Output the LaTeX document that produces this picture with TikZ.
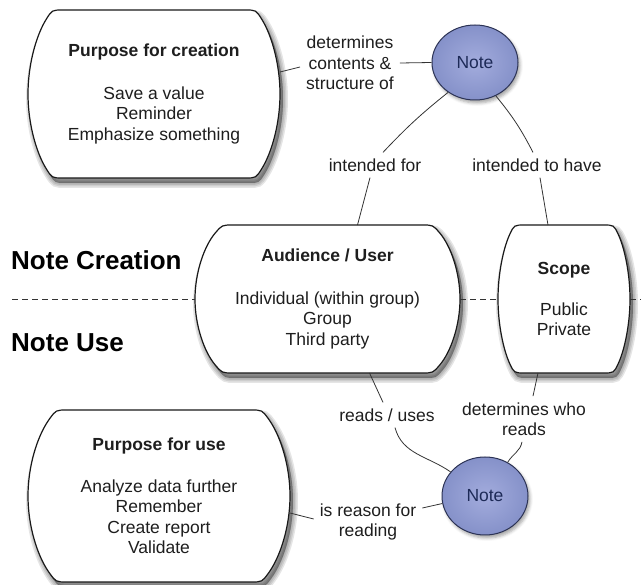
\documentclass[tikz,border=0pt]{standalone}
\usepackage{fontspec}
\setmainfont{Liberation Sans}
\usetikzlibrary{shapes.geometric,shadows.blur,calc}

\definecolor{noteinner}{HTML}{A3ACDD}
\definecolor{noteouter}{HTML}{8591C9}
\definecolor{noteedge}{HTML}{2C3355}
\definecolor{notetext}{HTML}{1D2A57}
\definecolor{ink}{HTML}{1E1E1E}
\definecolor{linkgray}{HTML}{333333}

% Outline of a box with flat top and bottom whose sides are circular arcs
% bulging outward by \cpc, with rounded corners of size \cpRho.
\newcommand\capsuleoutline{%
  (\cpl+\cpc+\cpRho,-\cpt) -- (\cpr-\cpc-\cpRho,-\cpt)
  .. controls (\cpr-\cpc,-\cpt) .. (\cpr-\cpc+\cpRx,-\cpt-\cpRy)
  .. controls (\cpr-\cpc+\cpSx,-\cpt-\cpSy) and (\cpr,-\cpm+\cpL) .. (\cpr,-\cpm)
  .. controls (\cpr,-\cpm-\cpL) and (\cpr-\cpc+\cpSx,-\cpb+\cpSy) .. (\cpr-\cpc+\cpRx,-\cpb+\cpRy)
  .. controls (\cpr-\cpc,-\cpb) .. (\cpr-\cpc-\cpRho,-\cpb)
  -- (\cpl+\cpc+\cpRho,-\cpb)
  .. controls (\cpl+\cpc,-\cpb) .. (\cpl+\cpc-\cpRx,-\cpb+\cpRy)
  .. controls (\cpl+\cpc-\cpSx,-\cpb+\cpSy) and (\cpl,-\cpm-\cpL) .. (\cpl,-\cpm)
  .. controls (\cpl,-\cpm+\cpL) and (\cpl+\cpc-\cpSx,-\cpt-\cpSy) .. (\cpl+\cpc-\cpRx,-\cpt-\cpRy)
  .. controls (\cpl+\cpc,-\cpt) .. (\cpl+\cpc+\cpRho,-\cpt) -- cycle}

% Arguments: left, top, right, bottom (top/bottom measured downward), side bulge.
% Draws a soft drop shadow, then the white box itself.
\newcommand\drawcapsule[5]{%
  \def\cpl{#1}\def\cpt{#2}\def\cpr{#3}\def\cpb{#4}\def\cpc{#5}\def\cpRho{11}%
  \pgfmathsetmacro\cpm{(#2+#4)/2}%
  \pgfmathsetmacro\cpHH{(#4-#2)/2}%
  \pgfmathsetmacro\cpR{(#5*#5+\cpHH*\cpHH)/(2*#5)}%
  \pgfmathsetmacro\cpTh{asin(\cpHH/\cpR)}%
  \pgfmathsetmacro\cpL{4/3*tan(\cpTh/4)*\cpR}%
  \pgfmathsetmacro\cpSx{\cpL*sin(\cpTh)}%
  \pgfmathsetmacro\cpSy{\cpL*cos(\cpTh)}%
  \pgfmathsetmacro\cpRx{\cpRho*sin(\cpTh)}%
  \pgfmathsetmacro\cpRy{\cpRho*cos(\cpTh)}%
  \foreach \w in {10,7,4,1}{%
    \path[capsuleshadow, line width=\w pt] \capsuleoutline;}
  \path[capsuleshape] \capsuleoutline;}

\begin{document}
\begin{tikzpicture}[x=1pt,y=1pt,
  font=\fontsize{17.5}{20.5}\selectfont,
  every node/.style={text=ink},
  boxtext/.style={align=center, inner sep=0pt, outer sep=0pt},
  capsuleshape/.style={draw=black!90, line width=1.2pt, fill=white},
  capsuleshadow/.style={shift={(3,-5)}, draw=black, draw opacity=0.1, fill=black, fill opacity=0.1},
  lbl/.style={align=center, inner sep=6pt},
  link/.style={draw=linkgray, line width=0.8pt},
  note/.style={ellipse, draw=noteedge, line width=1pt, inner color=noteinner, outer color=noteouter,
    minimum width=86pt, text=notetext, inner sep=0pt,
    blur shadow={shadow xshift=2pt, shadow yshift=-3pt, shadow blur radius=3pt, shadow opacity=35}},
  phase/.style={font=\fontsize{26}{30}\selectfont\bfseries, anchor=west, inner sep=0pt, text=black},
  divider/.style={draw=linkgray, line width=0.9pt, dash pattern=on 6pt off 4pt}]

\useasboundingbox (0,0) rectangle (641,-585);

% box outlines (left, top, right, bottom, bulge)
\drawcapsule{28}{10}{280}{178}{24}
\drawcapsule{195}{225}{460}{373}{27}
\drawcapsule{498}{225}{630}{373}{16}
\drawcapsule{28}{410}{290}{582}{28}

% box contents
\node[boxtext, minimum width=252pt, minimum height=168pt] (pc) at (154,-94)
  {\textbf{Purpose for creation}\\[22pt] Save a value\\ Reminder\\ Emphasize something};
\node[boxtext, minimum width=265pt, minimum height=148pt] (aud) at (327.5,-299)
  {\textbf{Audience / User}\\[22pt] Individual (within group)\\ Group\\ Third party};
\node[boxtext, minimum width=132pt, minimum height=148pt] (scope) at (564,-299)
  {\textbf{Scope}\\[20pt] Public\\ Private};
\node[boxtext, minimum width=262pt, minimum height=172pt] (pu) at (159,-496)
  {\textbf{Purpose for use}\\[21pt] Analyze data further\\ Remember\\ Create report\\ Validate};

% the two notes
\node[note, minimum height=75pt] (ntop) at (475,-62.5) {Note};
\node[note, minimum height=78pt] (nbot) at (485,-496) {Note};

% phase labels and divider
\node[phase] (creation) at (11,-260) {Note Creation};
\node[phase] (use) at (11,-343) {Note Use};
\coordinate (divL) at (12,-299);
\coordinate (divR) at (641,-299);
\draw[divider] (divL) -- (aud.west);
\draw[divider] (aud.east) -- (scope.west);
\draw[divider] (scope.east) -- (divR);

% relation labels
\node[lbl] (det) at (350,-63) {determines\\contents \&\\structure of};
\node[lbl] (ifor) at (375,-165) {intended for};
\node[lbl] (ihave) at (537,-165) {intended to have};
\node[lbl] (ruses) at (387,-415) {reads / uses};
\node[lbl] (dwho) at (524,-419) {determines who\\reads};
\node[lbl] (reason) at (368,-522) {is reason for\\reading};

% connectors
\draw[link] ($(pc.east)+(0,22)$) -- ($(det.west)+(0,-4)$);
\draw[link] (det.east) -- (ntop.west);
\draw[link] (ntop.228) to[bend right=4] ($(ifor.north)+(8,0)$);
\draw[link] ($(ifor.south)+(-5,0)$) -- ($(aud.north)+(30,0)$);
\draw[link] (ntop.302) to[bend left=6] ($(ihave.north)+(-4,0)$);
\draw[link] ($(ihave.south)+(3,0)$) -- ($(scope.north)+(-16,0)$);
\draw[link] ($(aud.south)+(42,0)$) -- ($(ruses.north)+(-4,0)$);
\draw[link] ($(ruses.south)+(8,0)$) to[out=-75,in=145] (nbot.145);
\draw[link] ($(scope.south)+(-26,0)$) -- ($(dwho.north)+(9,0)$);
\draw[link] ($(dwho.south)+(-2,0)$) to[out=-100,in=60] (nbot.56);
\draw[link] ($(pu.east)+(0,-17)$) -- ($(reason.west)+(0,3)$);
\draw[link] ($(reason.east)+(0,14)$) -- (nbot.190);
\end{tikzpicture}
\end{document}
